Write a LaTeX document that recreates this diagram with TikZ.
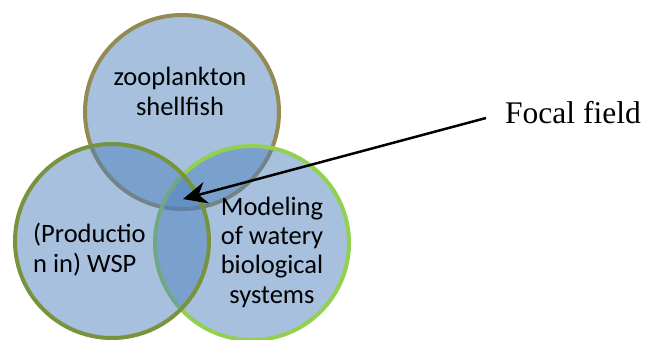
\documentclass[tikz,border=0pt]{standalone}
\usepackage{fontspec}
\setmainfont{Liberation Serif}
\newfontfamily\calibri{Carlito}
\usetikzlibrary{arrows.meta}
\definecolor{setblue}{HTML}{4F81BD}
\definecolor{topline}{HTML}{948A54}
\definecolor{leftline}{HTML}{77933C}
\definecolor{rightline}{HTML}{92D050}
\tikzset{
    setcircle/.style={fill=setblue, fill opacity=0.5, line width=4pt},
    settext/.style={font=\calibri\fontsize{26.5}{29.3}\selectfont, align=center, inner sep=0pt, anchor=base}
}

\begin{document}
\begin{tikzpicture}[x=1pt, y=-1pt]
    \useasboundingbox (0,0) rectangle (646,340);
    \clip (0,0) rectangle (646,340);

    % Centres of the sets
    \coordinate (ctop) at (182,112);
    \coordinate (cright) at (252,243);
    \coordinate (cleft) at (112,241);

    % Draw circles
    \draw[setcircle, draw=topline] (ctop) circle (97);
    \draw[setcircle, draw=rightline] (cright) circle (97);
    \draw[setcircle, draw=leftline] (cleft) circle (97);

    % Set labels (base = last line)
    \node[settext] (zoo) at (180,115) {zooplankton\\shellfish};
    \node[settext, align=left, anchor=base west] (wsp) at (33,272) {(Productio\\n in) WSP};
    \node[settext] (model) at (272,303) {Modeling\\of watery\\biological\\systems};

    % Focal field
    \coordinate (tip) at (183,199);
    \node[font=\fontsize{31.5}{36}\selectfont, anchor=base west, inner sep=0pt] (focal) at (505,123) {Focal field};
    \draw[line width=2.5pt, -{Stealth[length=24pt, width=22pt]}] ([xshift=-19pt, yshift=5pt]focal.base west) -- (tip);
\end{tikzpicture}
\end{document}
